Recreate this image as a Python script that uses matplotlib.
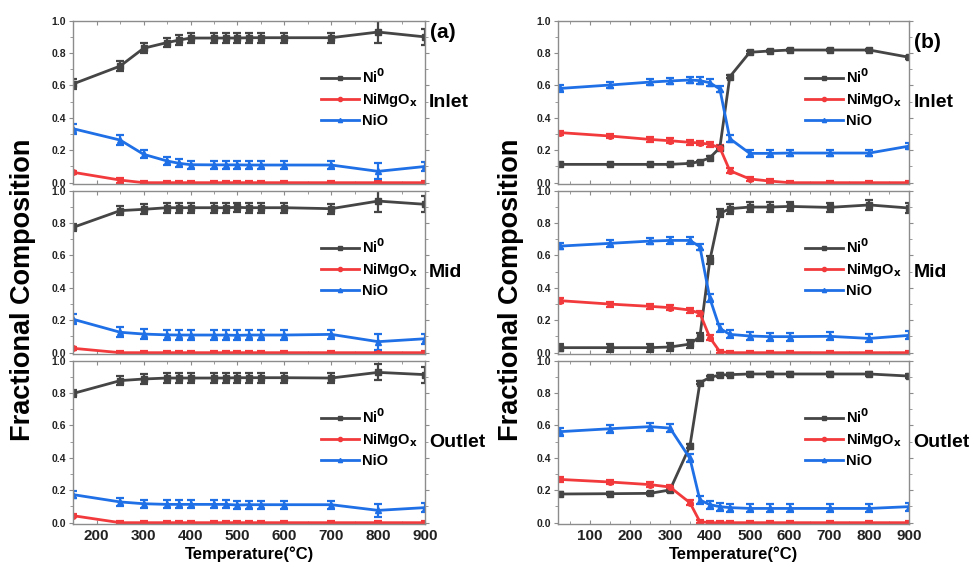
import numpy as np
from matplotlib import pyplot as plt
from matplotlib.ticker import MultipleLocator
from matplotlib.lines import Line2D

plt.rcParams['font.family'] = ['Liberation Sans', 'DejaVu Sans']
plt.rcParams['font.weight'] = 'bold'
plt.rcParams['mathtext.default'] = 'bf'

# ---- data: panel (a) ----
temp_a = [150, 250, 300, 350, 375, 400, 450, 475, 500, 525, 550, 600, 700, 800, 900]

a_in_ni = [0.61, 0.72, 0.83, 0.865, 0.88, 0.893, 0.893, 0.893, 0.893, 0.895, 0.895, 0.895, 0.895, 0.93, 0.90]
a_in_mg = [0.064, 0.016, 0, 0, 0, 0, 0, 0, 0, 0, 0, 0, 0, 0, 0]
a_in_nio = [0.333, 0.263, 0.175, 0.134, 0.12, 0.111, 0.11, 0.11, 0.11, 0.109, 0.109, 0.109, 0.109, 0.07, 0.10]
a_in_ni_err = [0.03, 0.03, 0.03, 0.03, 0.03, 0.03, 0.03, 0.03, 0.03, 0.03, 0.03, 0.03, 0.03, 0.07, 0.05]
a_in_mg_err = [0.01, 0.015, 0.01, 0.01, 0.01, 0.01, 0.01, 0.01, 0.01, 0.01, 0.01, 0.01, 0.01, 0.01, 0.01]
a_in_nio_err = [0.03, 0.03, 0.025, 0.025, 0.025, 0.025, 0.025, 0.025, 0.025, 0.025, 0.025, 0.025, 0.025, 0.05, 0.03]

a_mid_ni = [0.774, 0.877, 0.885, 0.895, 0.895, 0.895, 0.895, 0.895, 0.897, 0.895, 0.895, 0.895, 0.889, 0.936, 0.916]
a_mid_mg = [0.027, 0, 0, 0, 0, 0, 0, 0, 0, 0, 0, 0, 0, 0, 0]
a_mid_nio = [0.206, 0.126, 0.115, 0.11, 0.109, 0.109, 0.109, 0.109, 0.107, 0.109, 0.109, 0.109, 0.113, 0.068, 0.086]
a_mid_ni_err = [0.02, 0.03, 0.03, 0.03, 0.03, 0.03, 0.03, 0.03, 0.03, 0.03, 0.03, 0.03, 0.03, 0.07, 0.05]
a_mid_mg_err = [0.01, 0.01, 0.01, 0.01, 0.01, 0.01, 0.01, 0.01, 0.01, 0.01, 0.01, 0.01, 0.01, 0.01, 0.01]
a_mid_nio_err = [0.03, 0.03, 0.03, 0.03, 0.03, 0.03, 0.03, 0.03, 0.03, 0.03, 0.03, 0.03, 0.03, 0.05, 0.03]

a_out_ni = [0.798, 0.877, 0.887, 0.893, 0.893, 0.893, 0.893, 0.893, 0.895, 0.895, 0.895, 0.895, 0.893, 0.928, 0.914]
a_out_mg = [0.043, 0, 0, 0, 0, 0, 0, 0, 0, 0, 0, 0, 0, 0, 0]
a_out_nio = [0.173, 0.128, 0.117, 0.113, 0.113, 0.113, 0.113, 0.113, 0.109, 0.111, 0.111, 0.111, 0.111, 0.076, 0.093]
a_out_ni_err = [0.02, 0.03, 0.03, 0.03, 0.03, 0.03, 0.03, 0.03, 0.03, 0.03, 0.03, 0.03, 0.03, 0.05, 0.05]
a_out_mg_err = [0.01, 0.01, 0.01, 0.01, 0.01, 0.01, 0.01, 0.01, 0.01, 0.01, 0.01, 0.01, 0.01, 0.01, 0.01]
a_out_nio_err = [0.02, 0.025, 0.025, 0.025, 0.025, 0.025, 0.025, 0.025, 0.025, 0.025, 0.025, 0.025, 0.025, 0.04, 0.03]

# ---- data: panel (b) ----
temp_b = [25, 150, 250, 300, 350, 375, 400, 425, 450, 500, 550, 600, 700, 800, 900]

b_in_ni = [0.113, 0.113, 0.113, 0.113, 0.119, 0.13, 0.154, 0.216, 0.654, 0.805, 0.813, 0.819, 0.819, 0.819, 0.774]
b_in_mg = [0.309, 0.288, 0.267, 0.259, 0.249, 0.245, 0.237, 0.216, 0.074, 0.023, 0.01, 0, 0, 0, 0]
b_in_nio = [0.582, 0.603, 0.621, 0.628, 0.634, 0.63, 0.617, 0.578, 0.272, 0.181, 0.181, 0.183, 0.183, 0.183, 0.226]
b_in_ni_err = [0.005, 0.005, 0.005, 0.005, 0.005, 0.005, 0.008, 0.01, 0.01, 0.008, 0.008, 0.008, 0.008, 0.008, 0.008]
b_in_mg_err = [0.012, 0.015, 0.015, 0.015, 0.015, 0.015, 0.015, 0.015, 0.015, 0.015, 0.012, 0.01, 0.01, 0.01, 0.01]
b_in_nio_err = [0.02, 0.02, 0.02, 0.02, 0.02, 0.02, 0.02, 0.02, 0.02, 0.02, 0.02, 0.02, 0.02, 0.02, 0.02]

b_mid_ni = [0.031, 0.031, 0.031, 0.035, 0.053, 0.099, 0.572, 0.86, 0.889, 0.899, 0.899, 0.903, 0.897, 0.912, 0.893]
b_mid_mg = [0.321, 0.30, 0.286, 0.278, 0.263, 0.243, 0.093, 0.006, 0, 0, 0, 0, 0, 0, 0]
b_mid_nio = [0.658, 0.675, 0.689, 0.693, 0.693, 0.654, 0.335, 0.15, 0.113, 0.103, 0.099, 0.099, 0.101, 0.088, 0.107]
b_mid_ni_err = [0.02, 0.025, 0.025, 0.025, 0.025, 0.025, 0.025, 0.025, 0.03, 0.03, 0.03, 0.03, 0.03, 0.03, 0.03]
b_mid_mg_err = [0.015, 0.015, 0.015, 0.015, 0.015, 0.015, 0.015, 0.01, 0.01, 0.01, 0.01, 0.01, 0.01, 0.01, 0.01]
b_mid_nio_err = [0.02, 0.02, 0.02, 0.02, 0.02, 0.02, 0.025, 0.025, 0.025, 0.025, 0.025, 0.025, 0.025, 0.025, 0.025]

b_out_ni = [0.177, 0.179, 0.181, 0.202, 0.473, 0.864, 0.897, 0.912, 0.914, 0.918, 0.918, 0.918, 0.918, 0.918, 0.905]
b_out_mg = [0.267, 0.251, 0.235, 0.22, 0.123, 0.006, 0, 0, 0, 0, 0, 0, 0, 0, 0]
b_out_nio = [0.562, 0.58, 0.593, 0.584, 0.397, 0.14, 0.111, 0.099, 0.093, 0.088, 0.088, 0.088, 0.088, 0.088, 0.099]
b_out_ni_err = [0.01, 0.01, 0.01, 0.01, 0.01, 0.01, 0.01, 0.01, 0.01, 0.01, 0.01, 0.01, 0.01, 0.01, 0.01]
b_out_mg_err = [0.015, 0.015, 0.015, 0.015, 0.015, 0.01, 0.01, 0.01, 0.01, 0.01, 0.01, 0.01, 0.01, 0.01, 0.01]
b_out_nio_err = [0.025, 0.025, 0.025, 0.025, 0.025, 0.025, 0.025, 0.025, 0.025, 0.025, 0.025, 0.025, 0.025, 0.025, 0.025]

zones = ['Inlet', 'Mid', 'Outlet']
c_ni = '#454545'
c_mg = '#f23a3c'
c_nio = '#1f6fe6'
c_spine = '#8c8c8c'

W, H = 974, 567
fig = plt.figure(figsize=(W / 100, H / 100), dpi=100)

left_x = (73.3, 425.0)
right_x = (558.3, 909.3)
tops = [20.7, 190.7, 360.7]
ph = 163.6

data_a = [
    (a_in_ni, a_in_ni_err, a_in_mg, a_in_mg_err, a_in_nio, a_in_nio_err),
    (a_mid_ni, a_mid_ni_err, a_mid_mg, a_mid_mg_err, a_mid_nio, a_mid_nio_err),
    (a_out_ni, a_out_ni_err, a_out_mg, a_out_mg_err, a_out_nio, a_out_nio_err),
]
data_b = [
    (b_in_ni, b_in_ni_err, b_in_mg, b_in_mg_err, b_in_nio, b_in_nio_err),
    (b_mid_ni, b_mid_ni_err, b_mid_mg, b_mid_mg_err, b_mid_nio, b_mid_nio_err),
    (b_out_ni, b_out_ni_err, b_out_mg, b_out_mg_err, b_out_nio, b_out_nio_err),
]


def draw_panel(ax, temps, series, xlim, zone, last):
    ni, ni_e, mg, mg_e, nio, nio_e = series
    kw = dict(linewidth=2, elinewidth=1.6, capsize=3, capthick=1.6, markersize=4)
    ax.errorbar(temps, ni, yerr=ni_e, color=c_ni, marker='s', **kw)
    ax.errorbar(temps, mg, yerr=mg_e, color=c_mg, marker='o', **kw)
    ax.errorbar(temps, nio, yerr=nio_e, color=c_nio, marker='^', **kw)
    ax.set_xlim(*xlim)
    ax.set_ylim(-0.01, 1.0)
    ax.xaxis.set_major_locator(MultipleLocator(100))
    ax.xaxis.set_minor_locator(MultipleLocator(50))
    ax.yaxis.set_major_locator(MultipleLocator(0.2))
    ax.yaxis.set_minor_locator(MultipleLocator(0.1))
    ax.tick_params(axis='y', which='both', left=True, right=True, direction='out', colors=c_spine,
                   labelcolor='#222222', labelsize=7.5, length=3, pad=2)
    ax.tick_params(axis='y', which='minor', length=2)
    ax.tick_params(axis='x', which='both', top=True, bottom=True, direction='in', colors=c_spine,
                   labelcolor='#222222', labelsize=11, length=3)
    ax.tick_params(axis='x', which='minor', length=2)
    ax.yaxis.set_major_formatter(plt.FuncFormatter(lambda v, p: '%.1f' % v))
    for t in ax.get_yticklabels() + ax.get_xticklabels():
        t.set_fontweight('bold')
    for s in ax.spines.values():
        s.set_color(c_spine)
        s.set_linewidth(1.0)
    if not last:
        ax.tick_params(axis='x', labelbottom=False)
    handles = [
        Line2D([], [], color=c_ni, marker='s', markersize=3, linewidth=2),
        Line2D([], [], color=c_mg, marker='o', markersize=3, linewidth=2),
        Line2D([], [], color=c_nio, marker='^', markersize=3, linewidth=2),
    ]
    ax.legend(handles, ['Ni$^\\mathbf{0}$', 'NiMgO$_\\mathbf{x}$', 'NiO'], loc='center right',
              bbox_to_anchor=(1.0, 0.53), frameon=False, fontsize=10.5, handlelength=2.6,
              handletextpad=0.2, labelspacing=0.35, borderaxespad=0.1)
    ax.text(1.012, 0.5, zone, transform=ax.transAxes, fontsize=14, fontweight='bold',
            va='center', ha='left')


for i in range(3):
    bottom = 1 - (tops[i] + ph) / H
    ax = fig.add_axes([left_x[0] / W, bottom, (left_x[1] - left_x[0]) / W, ph / H])
    draw_panel(ax, temp_a, data_a[i], (150, 900), zones[i], i == 2)
    if i == 0:
        ax.text(1.015, 0.93, '(a)', transform=ax.transAxes, fontsize=15, fontweight='bold',
                va='center', ha='left')
    if i == 2:
        ax.set_xlabel('Temperature(°C)', fontsize=12, fontweight='bold', labelpad=2)

    ax = fig.add_axes([right_x[0] / W, bottom, (right_x[1] - right_x[0]) / W, ph / H])
    draw_panel(ax, temp_b, data_b[i], (20, 900), zones[i], i == 2)
    if i == 0:
        ax.text(1.012, 0.865, '(b)', transform=ax.transAxes, fontsize=15, fontweight='bold',
                va='center', ha='left')
    if i == 2:
        ax.set_xlabel('Temperature(°C)', fontsize=12, fontweight='bold', labelpad=2)

fig.text(23 / W, 0.489, 'Fractional Composition', rotation=90, fontsize=19.5,
         fontweight='bold', va='center', ha='center')
fig.text(511 / W, 0.489, 'Fractional Composition', rotation=90, fontsize=19.5,
         fontweight='bold', va='center', ha='center')

fig.savefig('out.png', dpi=100, facecolor='white')
